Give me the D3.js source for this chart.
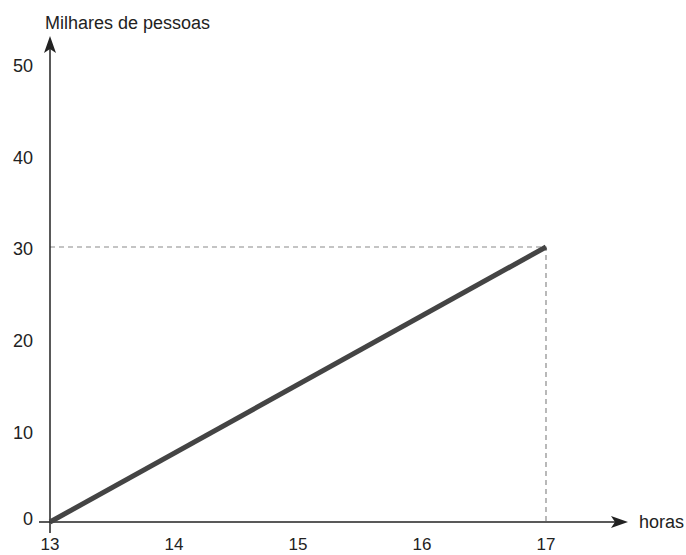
<!DOCTYPE html>
<html>
<head>
<meta charset="utf-8">
<script src="https://cdn.jsdelivr.net/npm/d3@7"></script>
<style>
  body { margin: 0; background: #fff; }
  text { font-family: 'Liberation Sans', Arial, sans-serif; fill: #222; }
</style>
</head>
<body>
<div id="chart"></div>
<script>
var hours = [13, 14, 15, 16, 17];
var peopleTicks = [0, 10, 20, 30, 40, 50];
var lineHours = [13, 17];
var lineValues = [0, 30];

var width = 686, height = 555;

var svg = d3.select("#chart").append("svg")
  .attr("width", width)
  .attr("height", height);

var x = d3.scaleLinear().domain([13, 17]).range([50, 546]);
var y = d3.scaleLinear().domain([0, 30]).range([522, 247]);

var data = lineHours.map(function (h, i) { return {h: h, v: lineValues[i]}; });
var last = data[data.length - 1];

// guide lines to the last point
svg.append("path")
  .attr("d", "M" + x(13) + "," + y(last.v) + "H" + x(last.h) + "V" + y(0))
  .attr("fill", "none")
  .attr("stroke", "#8a8a8a")
  .attr("stroke-width", 1.2)
  .attr("stroke-dasharray", "5,4");

// axes
svg.append("line")
  .attr("x1", x(13) - 11).attr("x2", 622)
  .attr("y1", y(0)).attr("y2", y(0))
  .attr("stroke", "#222").attr("stroke-width", 1.5);
svg.append("path")
  .attr("d", "M628," + y(0) + "L611," + (y(0) - 6) + "L615," + y(0) + "L611," + (y(0) + 6) + "Z")
  .attr("fill", "#222");

svg.append("line")
  .attr("x1", x(13)).attr("x2", x(13))
  .attr("y1", y(0) + 11).attr("y2", 44)
  .attr("stroke", "#222").attr("stroke-width", 1.5);
svg.append("path")
  .attr("d", "M" + x(13) + ",36L" + (x(13) - 6) + ",53L" + x(13) + ",49L" + (x(13) + 6) + ",53Z")
  .attr("fill", "#222");

// tick labels
svg.selectAll(".xlab")
  .data(hours)
  .enter().append("text")
  .attr("x", function (d) { return x(d); })
  .attr("y", 550)
  .attr("text-anchor", "middle")
  .attr("font-size", "17px")
  .text(function (d) { return d; });

svg.selectAll(".ylab")
  .data(peopleTicks)
  .enter().append("text")
  .attr("x", 33)
  .attr("y", function (d) { return y(d) + (d === 0 ? -3 : 2); })
  .attr("dy", "0.35em")
  .attr("text-anchor", "end")
  .attr("font-size", "18px")
  .text(function (d) { return d; });

svg.append("text")
  .attr("x", 45).attr("y", 29)
  .attr("font-size", "18px")
  .text("Milhares de pessoas");

svg.append("text")
  .attr("x", 639).attr("y", y(0))
  .attr("dy", "0.35em")
  .attr("font-size", "18px")
  .text("horas");

// data line
svg.append("path")
  .datum(data)
  .attr("fill", "none")
  .attr("stroke", "#444")
  .attr("stroke-width", 5)
  .attr("d", d3.line()
    .x(function (d) { return x(d.h); })
    .y(function (d) { return y(d.v); }));
</script>
</body>
</html>
